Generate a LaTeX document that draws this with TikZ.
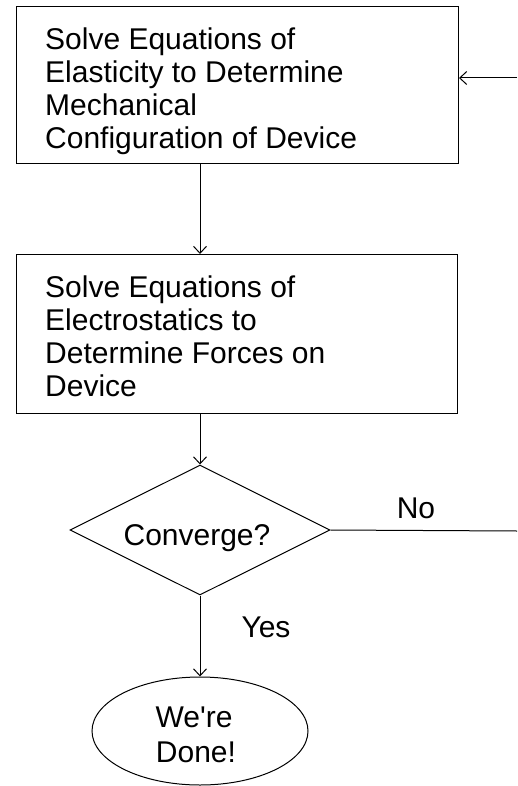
\documentclass[tikz,border=0pt]{standalone}
\usepackage{fontspec}
\setmainfont{Liberation Sans}[Ligatures=TeXOff]
\usetikzlibrary{shapes.geometric,arrows.meta}
\begin{document}
\begin{tikzpicture}[x=1pt,y=-1pt,
  every node/.style={font=\fontsize{30}{33}\selectfont},
  stepbox/.style={draw, line width=1pt, rectangle, inner sep=0pt, anchor=north west},
  steptext/.style={inner sep=0pt, align=left, anchor=north west},
  decision/.style={draw, line width=1pt, diamond, inner sep=0pt, minimum width=260pt, minimum height=130pt},
  terminal/.style={draw, line width=1pt, ellipse, inner sep=0pt, minimum width=216pt, minimum height=108pt},
  lbl/.style={inner sep=0pt, anchor=base},
  conn/.style={line width=1pt, -{Straight Barb[length=7pt,width=13pt,line width=1pt]}},
  plain/.style={line width=1pt}]
\useasboundingbox (0,0) rectangle (517,786);
\node[stepbox, minimum width=442pt, minimum height=157pt] (b1) at (16,6) {};
\node[steptext] (t1) at (45,24)
  {\rule{0pt}{25pt}Solve Equations of\\Elasticity to Determine\\Mechanical\\Configuration of Device};
\node[stepbox, minimum width=441pt, minimum height=159pt] (b2) at (16,254) {};
\node[steptext] (t2) at (45,272)
  {\rule{0pt}{25pt}Solve Equations of\\Electrostatics to\\Determine Forces on\\Device};
\node[decision] (d) at (200,530) {};
\node[lbl] (dt) at (197,545) {Converge?};
\node[terminal] (e) at (200,731) {};
\node[lbl] (e1) at (194,727) {We're};
\node[lbl] (e2) at (196,762) {Done!};
\node[lbl] (no) at (416,518) {No};
\node[lbl] (yes) at (266,637) {Yes};
\coordinate (r1) at (517,531);
\coordinate (r2) at (517,78);
\draw[conn] (b1.south -| d.north) -- (b2.north -| d.north);
\draw[conn] (b2.south -| d.north) -- (d.north);
\draw[conn] (d.south) -- (e.north);
\draw[plain] (d.east) -- (r1);
\draw[conn] (r2) -- (r2 -| b1.east);
\end{tikzpicture}
\end{document}
